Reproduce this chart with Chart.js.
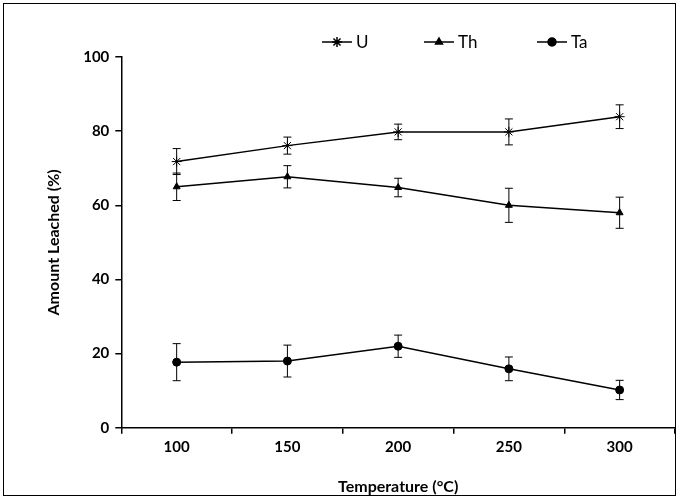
<!DOCTYPE html>
<html><head><meta charset="utf-8">
<script src="https://cdn.jsdelivr.net/npm/chart.js@4"></script>
<style>
html,body{margin:0;padding:0;background:#fff}
#w{position:absolute;left:3px;top:3px;width:673px;height:493px;border:1.5px solid #000;box-sizing:border-box}
#c{position:absolute;left:0;top:0}
</style></head><body>
<div id="w"></div>
<canvas id="c" width="681" height="502"></canvas>
<script>
const categories = ['100','150','200','250','300'];
const U = [71.8, 76.1, 79.8, 79.8, 83.9];
const Uerr = [3.5, 2.3, 2.1, 3.5, 3.2];
const Th = [65.0, 67.7, 64.8, 60.0, 58.0];
const ThErr = [3.7, 3.0, 2.5, 4.6, 4.2];
const Ta = [17.7, 18.0, 22.0, 15.9, 10.2];
const TaErr = [5.0, 4.3, 3.0, 3.2, 2.6];
const yTicks = [0,20,40,60,80,100];
const errs = [Uerr, ThErr, TaErr];
const FONT = 'Lato, "Open Sans", sans-serif';

const errorBars = {
  id:'errorBars',
  afterDatasetsDraw(chart){
    const ctx = chart.ctx, y = chart.scales.y;
    ctx.save(); ctx.strokeStyle='#000'; ctx.lineWidth=1;
    chart.data.datasets.forEach((ds,i)=>{
      const meta = chart.getDatasetMeta(i);
      meta.data.forEach((pt,j)=>{
        const v = ds.data[j], e = errs[i][j];
        const t = y.getPixelForValue(v+e), b = y.getPixelForValue(v-e);
        ctx.beginPath();
        ctx.moveTo(pt.x,t); ctx.lineTo(pt.x,b);
        ctx.moveTo(pt.x-4,t); ctx.lineTo(pt.x+4,t);
        ctx.moveTo(pt.x-4,b); ctx.lineTo(pt.x+4,b);
        ctx.stroke();
      });
    });
    ctx.restore();
  }
};
const legendPlug = {
  id:'legendPlug',
  afterDraw(chart){
    const ctx = chart.ctx;
    const items = [['U','star',322],['Th','triangle',424],['Ta','circle',537]];
    ctx.save();
    ctx.font = '17px ' + FONT;
    ctx.textBaseline='middle'; ctx.fillStyle='#000'; ctx.strokeStyle='#000';
    items.forEach(([lab,st,x])=>{
      const yy = 42;
      ctx.lineWidth=1.5;
      ctx.beginPath(); ctx.moveTo(x,yy); ctx.lineTo(x+30,yy); ctx.stroke();
      Chart.helpers.drawPoint(ctx,{pointStyle:st,radius:st==='star'?5:4,rotation:0,borderWidth:1},x+15,yy);
      if(st!=='star'){ctx.fill();}
      ctx.fillText(lab,x+34,yy+1);
    });
    ctx.restore();
  }
};
function ds(label,data,style,r){
  return {label,data,borderColor:'#000',backgroundColor:'#000',borderWidth:1.5,
    pointStyle:style,pointRadius:r,pointBorderWidth:1,pointBorderColor:'#000',pointBackgroundColor:'#000',tension:0};
}
new Chart(document.getElementById('c'),{
  type:'line',
  data:{labels:categories,datasets:[ds('U',U,'star',5),ds('Th',Th,'triangle',4),ds('Ta',Ta,'circle',4)]},
  options:{
    responsive:false,animation:false,
    layout:{padding:{left:40,top:57,right:2,bottom:2}},
    plugins:{legend:{display:false},tooltip:{enabled:false}},
    scales:{
      x:{offset:true,
        grid:{offset:true,drawOnChartArea:false,color:'#000',tickLength:6,lineWidth:1.5},
        border:{color:'#000',width:1.5},
        ticks:{color:'#000',font:{size:15,weight:'bold',family:FONT},padding:4},
        title:{display:true,text:'Temperature (°C)',color:'#000',font:{size:16,weight:'bold',family:FONT},padding:{top:17}}},
      y:{min:0,max:100,
        afterBuildTicks(s){s.ticks=yTicks.map(v=>({value:v}));},
        grid:{drawOnChartArea:false,color:'#000',tickLength:6,lineWidth:1.5},
        border:{color:'#000',width:1.5},
        ticks:{color:'#000',font:{size:15,weight:'bold',family:FONT},padding:6},
        title:{display:true,text:'Amount Leached (%)',color:'#000',font:{size:16,weight:'bold',family:FONT},padding:{bottom:14}}}
    }
  },
  plugins:[errorBars,legendPlug]
});
</script></body></html>
